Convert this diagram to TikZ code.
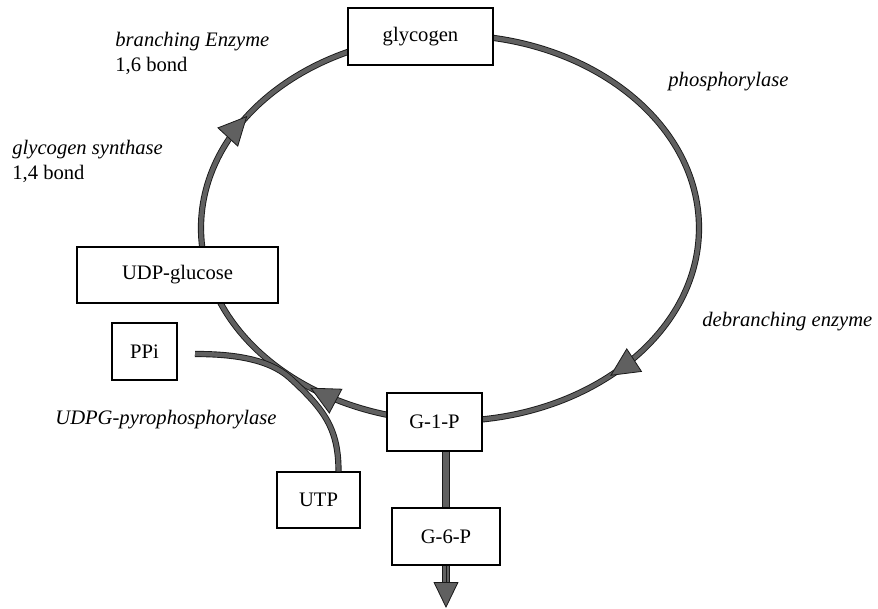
\documentclass[tikz,border=0pt]{standalone}
\usepackage{fontspec}
\setmainfont{Liberation Serif}
\usetikzlibrary{arrows.meta, decorations.markings}
\definecolor{Grigio}{RGB}{96, 96, 96}
\definecolor{Bordo}{RGB}{25, 25, 25}
\tikzset{
    scatola/.style = {draw=black, line width=0.7pt, fill=white, inner sep=0pt, font=\fontsize{10.3}{12.5}\selectfont},
    enzima/.style  = {align=left, anchor=west, inner sep=0pt, font=\fontsize{10.3}{12.5}\selectfont},
    ciclo/.style   = {draw=Bordo, line width=0.45pt, double=Grigio, double distance=2.2pt},
    barra/.style   = {draw=Bordo, line width=0.45pt, double=Grigio, double distance=2.8pt},
    punta/.tip     = {Triangle[length=14.5pt, width=14pt, fill=Grigio]},
    punta giu/.tip = {Triangle[length=13pt, width=12.5pt, fill=Grigio]}
}
\begin{document}
\begin{tikzpicture}[
    x=0.5pt, y=-0.5pt,
    frecce ciclo/.style = {decorate, decoration={markings,
        mark=at position 0.129 with {\arrow[Bordo]{punta}},
        mark=at position 0.354 with {\arrow[Bordo]{punta}},
        mark=at position 0.589 with {\arrow[Bordo]{punta}}}}
    ]
    \useasboundingbox (0,0) rectangle (878,609);

    %%% Cycle
    \draw[ciclo] (450,228) ellipse [x radius=249, y radius=193];
    \path[frecce ciclo] (450,228) ellipse [x radius=249, y radius=193];

    %%% Metabolites
    \node[scatola, minimum width=72.5pt, minimum height=28.5pt] (glycogen) at (420.5,36.5) {glycogen};
    \node[scatola, minimum width=100.5pt, minimum height=28pt]  (udpg)     at (177.5,275)  {UDP-glucose};
    \node[scatola, minimum width=32.5pt, minimum height=28.5pt] (ppi)      at (144.5,351.5) {PPi};
    \node[scatola, minimum width=47.5pt, minimum height=29pt]   (g1p)      at (434.5,422)  {G-1-P};
    \node[scatola, minimum width=41.5pt, minimum height=28pt]   (utp)      at (318.5,500)  {UTP};
    \node[scatola, minimum width=54pt, minimum height=28.5pt]   (g6p)      at (446,536.5)  {G-6-P};

    %%% Enzymes
    \node[enzima] (branching) at (115,53.5)  {\textit{branching Enzyme}\\1,6 bond};
    \node[enzima] (synthase)  at (12,161.5)  {\textit{glycogen synthase}\\1,4 bond};
    \node[enzima] (phosph)    at (668,82)    {\textit{phosphorylase}};
    \node[enzima] (debranch)  at (702,322)   {\textit{debranching enzyme}};
    \node[enzima] (pyro)      at (55,420)    {\textit{UDPG-pyrophosphorylase}};

    %%% UTP in, PPi out
    \coordinate (ppi end) at (195,354);
    \draw[ciclo] ([xshift=10pt]utp.north) .. controls +(0,-42) and (325,410) .. (290,378)
                 .. controls (268,358) and (230,354) .. (ppi end);

    %%% G-1-P to G-6-P and onwards
    \coordinate (uscita) at (446,608);
    \draw[barra] (g1p.south -| g6p.north) -- (g6p.north);
    \draw[barra, shorten >=8pt] (g6p.south) -- (uscita);
    \draw[Bordo, -{punta giu}] (g6p.south) -- (uscita);
\end{tikzpicture}
\end{document}
